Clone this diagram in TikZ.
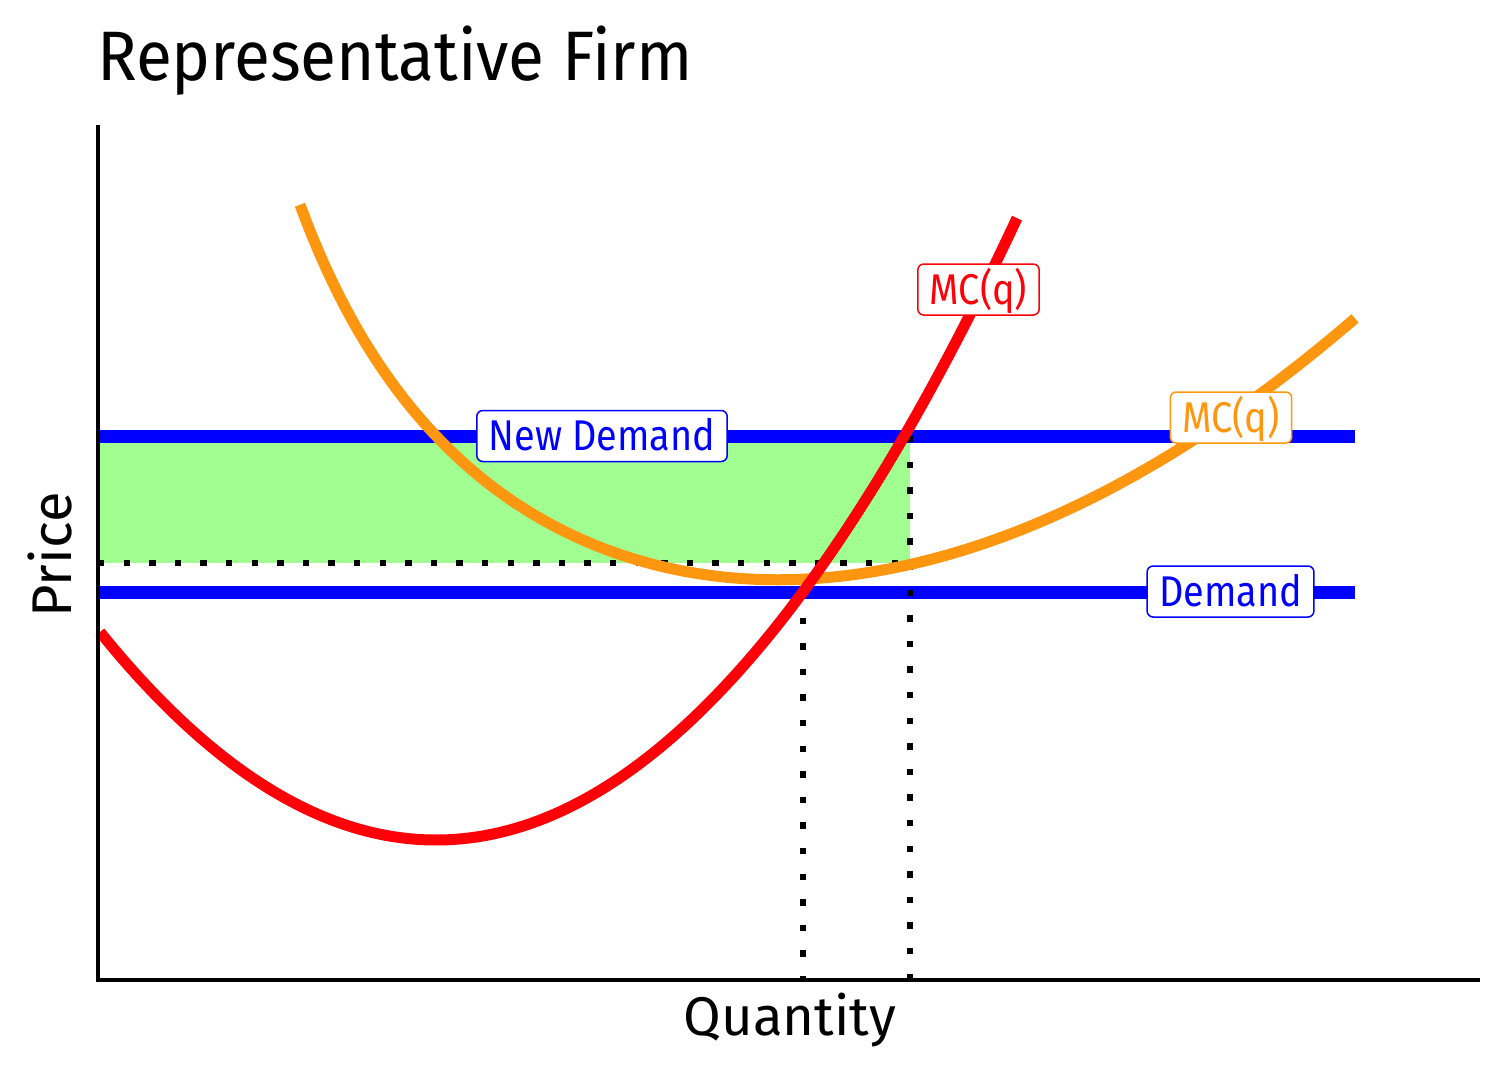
\documentclass[tikz,border=0pt]{standalone}
\usepackage{fontspec}
\setmainfont{Fira Sans}
\newfontfamily\labfont[FakeStretch=0.88]{Fira Sans}
\newfontfamily\titlefont[FakeStretch=0.94]{Fira Sans}
\begin{document}
\begin{tikzpicture}[x=1pt,y=-1pt,
  curveline/.style={line width=11pt},
  demandline/.style={line width=13pt, draw=blue},
  dotline/.style={line width=6.4pt, dash pattern=on 6.4pt off 19.2pt, draw=black},
  lab/.style={font=\labfont\fontsize{43}{52}\selectfont, fill=white, rounded corners=6pt, line width=1.5pt,
     inner xsep=12pt, inner ysep=4pt, text height=36pt, text depth=7pt},
  axislabel/.style={font=\fontsize{56}{67}\selectfont, inner sep=0pt}
]
\definecolor{fillgreen}{RGB}{160,255,144}
\definecolor{acorange}{RGB}{255,150,15}
\definecolor{mcred}{RGB}{255,0,8}
\useasboundingbox (0,0) rectangle (1512,1080);
\fill[white] (0,0) rectangle (1512,1080);

% coordinates
\coordinate (nd0) at (100,436);
\coordinate (nd1) at (1355,436);
\coordinate (d0) at (100,592);
\coordinate (d1) at (1355,592);
\coordinate (h0) at (98,563);
\coordinate (h1) at (910,563);
\coordinate (vr0) at (910,436);
\coordinate (vr1) at (910,980);
\coordinate (vl0) at (803,592);
\coordinate (vl1) at (803,980);

% shaded area
\fill[fillgreen] (100,442) rectangle (910,563);

% demand lines
\draw[demandline] (nd0) -- (nd1);
\draw[demandline] (d0) -- (d1);

% dotted guides
\draw[dotline] (h0) -- (h1);
\draw[dotline] (vr0) -- (vr1);
\draw[dotline] (vl0) -- (vl1);

% average cost curve
\draw[curveline, acorange] plot[domain=300:1355, samples=160]
  (\x, {980-(405.94 + 954.15/(0.01*(\x-98)) - 0.63652*(\x-98) + (0.024895*(\x-98))^2)});

% marginal cost curve
\draw[curveline, mcred] plot[domain=100:1017, samples=120] (\x, {840-(0.042919*(\x-436))^2});

% axes
\coordinate (o) at (98,980);
\coordinate (ytop) at (98,125);
\coordinate (xend) at (1480,980);
\draw[line width=4.5pt] (ytop) -- (98,982.25);
\draw[line width=4.5pt] (95.75,980) -- (xend);

% labels
\node[lab, draw=blue, text=blue] (ndlab) at (602,436) {New Demand};
\node[lab, draw=blue, text=blue] (dlab) at (1230.5,591.5) {Demand};
\node[lab, draw=mcred, text=mcred] (mclab) at (978.5,289.5) {MC(q)};
\node[lab, draw=acorange, text=acorange] (aclab) at (1231,417.5) {MC(q)};

% titles
\node[anchor=base west, inner sep=0pt, font=\titlefont\fontsize{70}{84}\selectfont] (title) at (97,80) {Representative Firm};
\node[axislabel, anchor=base, rotate=90] (ylab) at (71,555) {Price};
\node[axislabel, anchor=base, font=\fontsize{54.5}{65}\selectfont] (xlab) at (790,1035) {Quantity};
\end{tikzpicture}
\end{document}
